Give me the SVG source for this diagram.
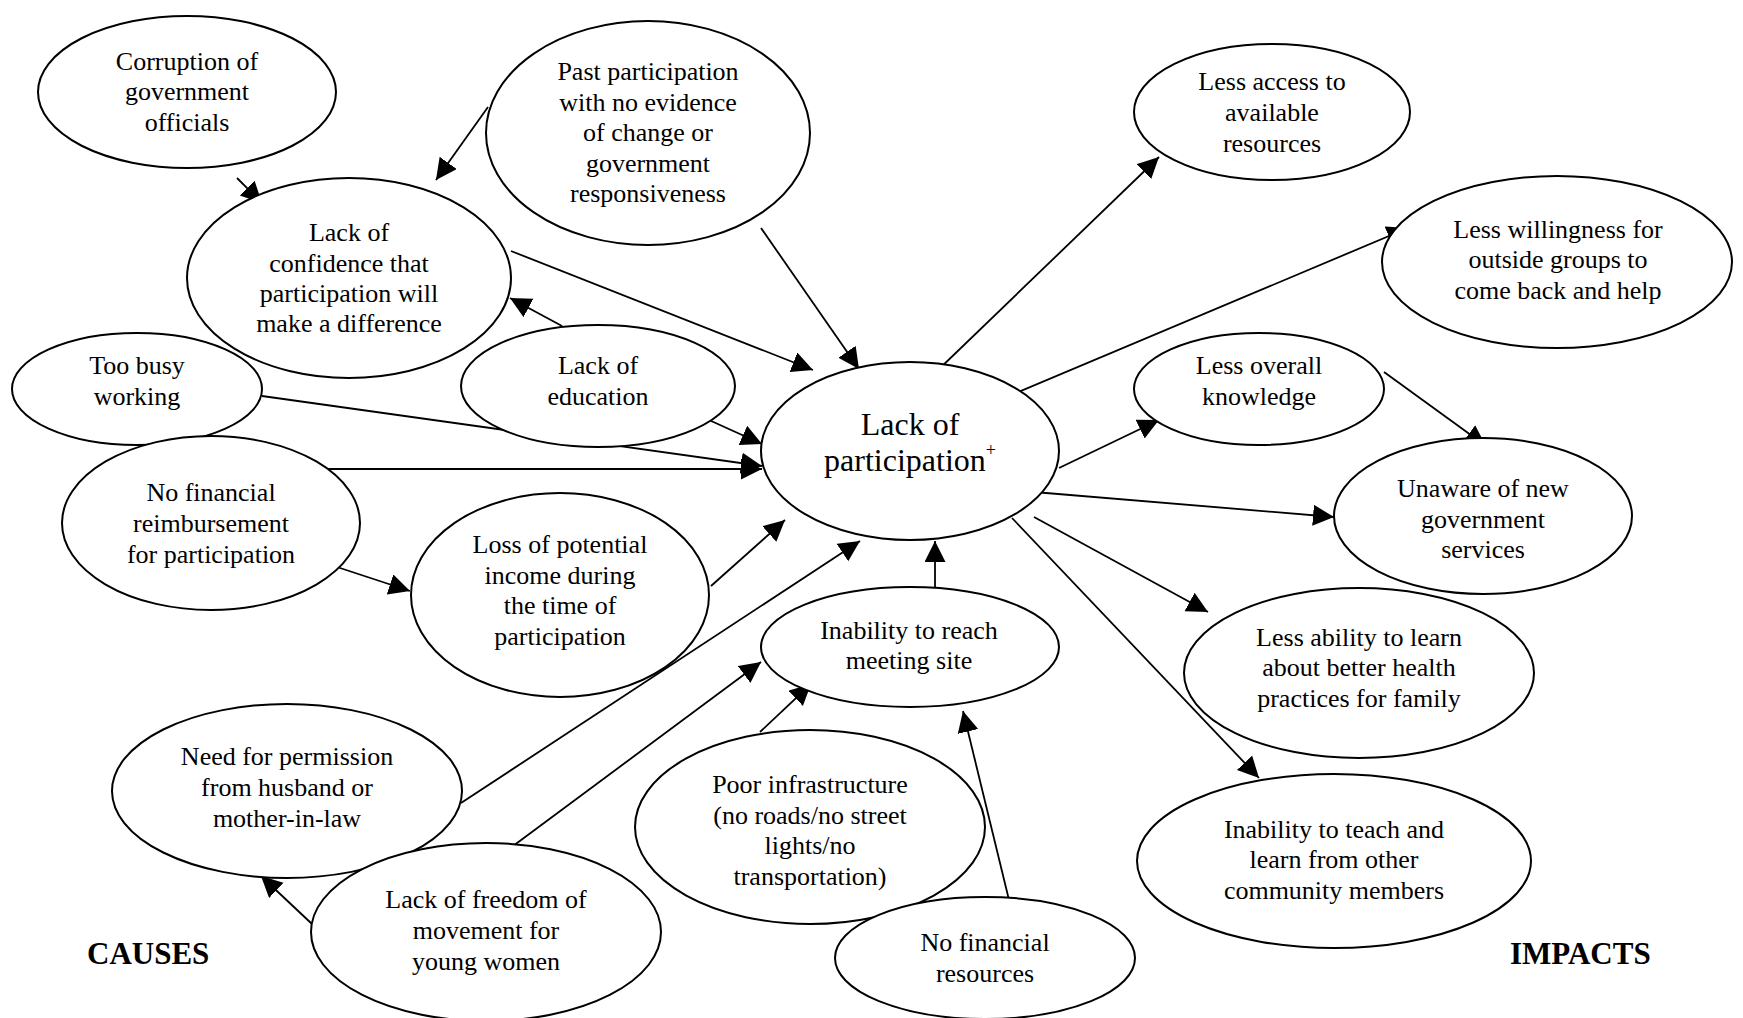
<svg xmlns="http://www.w3.org/2000/svg" width="1743" height="1018" viewBox="0 0 1743 1018">
<style>
ellipse{fill:#fff;stroke:#000;stroke-width:2}
text{font-family:"Liberation Serif","Times New Roman",serif;font-size:26px;text-anchor:middle;fill:#000}
.big{font-size:32px}
.lbl{font-size:31px;font-weight:bold;text-anchor:start}
.c line{stroke:#000;stroke-width:1.8;marker-end:url(#ah)}
</style>
<defs>
<marker id="ah" markerUnits="userSpaceOnUse" markerWidth="22" markerHeight="22" refX="21" refY="10.5" orient="auto">
<path d="M0,0 L21,10.5 L0,21 z" fill="#000"/>
</marker>
</defs>
<rect width="1743" height="1018" fill="#fff"/>
<g class="c" id="connectors">
<line x1="237" y1="178" x2="262" y2="203"/>
<line x1="488" y1="107" x2="436" y2="180"/>
<line x1="511" y1="251" x2="813" y2="370"/>
<line x1="761" y1="228" x2="859" y2="369"/>
<line x1="562" y1="326" x2="510" y2="298"/>
<line x1="709" y1="420" x2="762" y2="444"/>
<line x1="262" y1="396" x2="762" y2="466"/>
<line x1="311" y1="469" x2="762" y2="469"/>
<line x1="337" y1="567" x2="410" y2="591"/>
<line x1="711" y1="586" x2="785" y2="520"/>
<line x1="461" y1="803" x2="860" y2="541"/>
<line x1="935" y1="589" x2="935" y2="541"/>
<line x1="509" y1="849" x2="761" y2="662"/>
<line x1="312" y1="924" x2="261" y2="876"/>
<line x1="760" y1="732" x2="811" y2="684"/>
<line x1="1009" y1="900" x2="963" y2="711"/>
<line x1="936" y1="372" x2="1159" y2="157"/>
<line x1="1009" y1="396" x2="1408" y2="228"/>
<line x1="1059" y1="468" x2="1159" y2="420"/>
<line x1="1384" y1="372" x2="1486" y2="446"/>
<line x1="1034" y1="492" x2="1334" y2="517"/>
<line x1="1034" y1="517" x2="1208" y2="612"/>
<line x1="1012" y1="518" x2="1259" y2="778"/>
</g>
<g id="n-corruption"><ellipse cx="187" cy="92" rx="149" ry="76"/><text x="187" y="70">Corruption of</text><text x="187" y="100">government</text><text x="187" y="131">officials</text></g>
<g id="n-past"><ellipse cx="648" cy="133" rx="162" ry="112"/><text x="648" y="80">Past participation</text><text x="648" y="111">with no evidence</text><text x="648" y="141">of change or</text><text x="648" y="172">government</text><text x="648" y="202">responsiveness</text></g>
<g id="n-confidence"><ellipse cx="349" cy="278" rx="162" ry="100"/><text x="349" y="241">Lack of</text><text x="349" y="272">confidence that</text><text x="349" y="302">participation will</text><text x="349" y="332">make a difference</text></g>
<g id="n-busy"><ellipse cx="137" cy="389" rx="125" ry="56"/><text x="137" y="374">Too busy</text><text x="137" y="405">working</text></g>
<g id="n-education"><ellipse cx="598" cy="386" rx="137" ry="61"/><text x="598" y="374">Lack of</text><text x="598" y="405">education</text></g>
<g id="n-reimb"><ellipse cx="211" cy="523" rx="149" ry="87"/><text x="211" y="501">No financial</text><text x="211" y="532">reimbursement</text><text x="211" y="563">for participation</text></g>
<g id="n-loss"><ellipse cx="560" cy="595" rx="149" ry="102"/><text x="560" y="553">Loss of potential</text><text x="560" y="584">income during</text><text x="560" y="614">the time of</text><text x="560" y="645">participation</text></g>
<g id="n-central"><ellipse cx="910" cy="451" rx="149" ry="89"/><text class="big" x="910" y="435">Lack of</text><text class="big" x="910" y="471">participation<tspan font-size="18" dy="-15">+</tspan></text></g>
<g id="n-reach"><ellipse cx="910" cy="647" rx="149" ry="60"/><text x="909" y="639">Inability to reach</text><text x="909" y="669">meeting site</text></g>
<g id="n-permission"><ellipse cx="287" cy="791" rx="175" ry="87"/><text x="287" y="765">Need for permission</text><text x="287" y="796">from husband or</text><text x="287" y="827">mother-in-law</text></g>
<g id="n-poor"><ellipse cx="810" cy="827" rx="175" ry="97"/><text x="810" y="793">Poor infrastructure</text><text x="810" y="824">(no roads/no street</text><text x="810" y="854">lights/no</text><text x="810" y="885">transportation)</text></g>
<g id="n-freedom"><ellipse cx="486" cy="932" rx="175" ry="89"/><text x="486" y="908">Lack of freedom of</text><text x="486" y="939">movement for</text><text x="486" y="970">young women</text></g>
<g id="n-finres"><ellipse cx="985" cy="958" rx="150" ry="61"/><text x="985" y="951">No financial</text><text x="985" y="982">resources</text></g>
<g id="n-access"><ellipse cx="1272" cy="112" rx="138" ry="68"/><text x="1272" y="90">Less access to</text><text x="1272" y="121">available</text><text x="1272" y="152">resources</text></g>
<g id="n-willingness"><ellipse cx="1557" cy="262" rx="175" ry="86"/><text x="1558" y="238">Less willingness for</text><text x="1558" y="268">outside groups to</text><text x="1558" y="299">come back and help</text></g>
<g id="n-overall"><ellipse cx="1259" cy="389" rx="125" ry="56"/><text x="1259" y="374">Less overall</text><text x="1259" y="405">knowledge</text></g>
<g id="n-unaware"><ellipse cx="1483" cy="516" rx="149" ry="78"/><text x="1483" y="497">Unaware of new</text><text x="1483" y="528">government</text><text x="1483" y="558">services</text></g>
<g id="n-ability"><ellipse cx="1359" cy="673" rx="175" ry="85"/><text x="1359" y="646">Less ability to learn</text><text x="1359" y="676">about better health</text><text x="1359" y="707">practices for family</text></g>
<g id="n-teach"><ellipse cx="1334" cy="861" rx="197" ry="87"/><text x="1334" y="838">Inability to teach and</text><text x="1334" y="868">learn from other</text><text x="1334" y="899">community members</text></g>
<text class="lbl" x="87" y="964">CAUSES</text>
<text class="lbl" x="1510" y="964">IMPACTS</text>
</svg>
